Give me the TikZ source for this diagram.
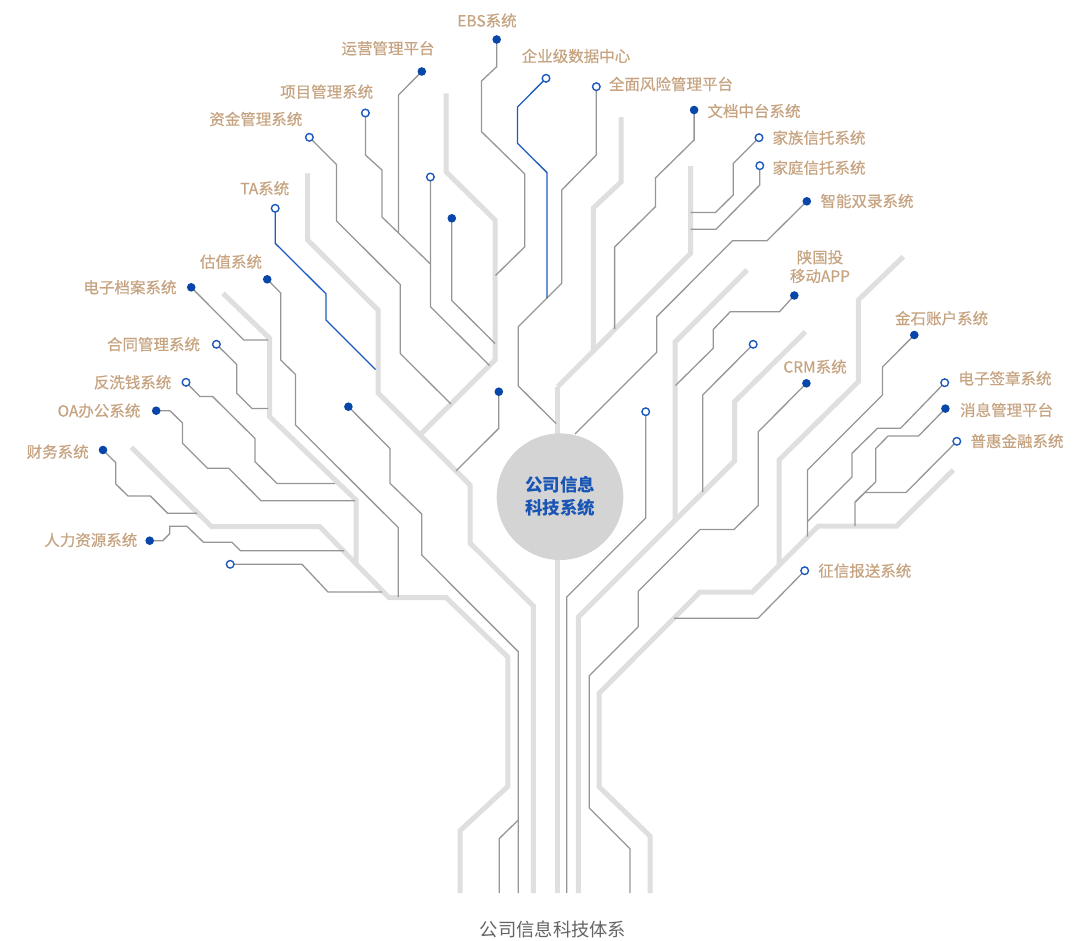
\documentclass[tikz,border=0pt]{standalone}
\usepackage{fontspec}
\setmainfont{Noto Sans CJK SC}
\newfontfamily\lblfont{Noto Sans CJK SC}[FakeBold=0.6]
\definecolor{trunkc}{RGB}{223,223,223}
\definecolor{wirec}{RGB}{150,150,150}
\definecolor{bluew}{RGB}{30,90,190}
\definecolor{dotc}{RGB}{8,70,170}
\definecolor{lblc}{RGB}{198,164,130}
\definecolor{hubc}{RGB}{212,212,212}
\definecolor{hubt}{RGB}{25,85,180}
\definecolor{capc}{RGB}{100,100,100}
\tikzset{
  trunk/.style={draw=trunkc,line width=5pt,line join=miter},
  wire/.style={draw=wirec,line width=1.3pt},
  bwire/.style={draw=bluew,line width=1.3pt},
  fdot/.style={circle,fill=dotc,inner sep=0pt,minimum size=8.6pt},
  odot/.style={circle,fill=white,draw=bluew,line width=1.4pt,inner sep=0pt,minimum size=7.6pt},
  lbl/.style={text=lblc,inner sep=0pt,font=\lblfont\fontsize{15.5}{18}\selectfont},
}
\begin{document}
\begin{tikzpicture}[x=1pt,y=-1pt]
\useasboundingbox (0,0) rectangle (1084,940);
% ---------- dots (coordinates) ----------
\coordinate (ebs) at (496.7,39.5);
\coordinate (yy) at (421.8,71.5);
\coordinate (qy) at (546,78.3);
\coordinate (qm) at (596.3,86.7);
\coordinate (xm) at (365.4,113);
\coordinate (wd) at (694.1,110);
\coordinate (zj) at (309.4,137.3);
\coordinate (jz) at (759,137.7);
\coordinate (jt) at (759.8,165.7);
\coordinate (o430) at (430.4,177);
\coordinate (ta) at (275.2,208.3);
\coordinate (zn) at (806.8,201.3);
\coordinate (f451) at (451.8,218.3);
\coordinate (gz) at (267.2,279.3);
\coordinate (sgt) at (794.3,295.5);
\coordinate (dzda) at (191.2,287.3);
\coordinate (js) at (914.3,335);
\coordinate (ht) at (216.4,344.3);
\coordinate (o753) at (753.2,344.3);
\coordinate (crm) at (806.4,383.3);
\coordinate (fxq) at (186,382.3);
\coordinate (dzqz) at (944.7,382.7);
\coordinate (f498) at (498.8,391.7);
\coordinate (f348) at (348.4,406.7);
\coordinate (oa) at (156.2,410.7);
\coordinate (xx) at (945.4,408.6);
\coordinate (o646) at (645.7,411.7);
\coordinate (ph) at (956.8,441.3);
\coordinate (cw) at (103,450);
\coordinate (rl) at (149.7,540.7);
\coordinate (o231) at (230.2,564.3);
\coordinate (zx) at (804.7,570.7);
% ---------- trunks ----------
\draw[trunk] (446,93.3) -- (446,171.7) -- (495,220) -- (495,360) -- (420,435);
\draw[trunk] (307.7,173.3) -- (307.7,240) -- (378,310) -- (378,393) -- (470,485) -- (470,543) -- (533.3,606) -- (533.3,893);
\draw[trunk] (223,293.3) -- (269.6,338.3) -- (269.6,416.7) -- (356,500) -- (356,564);
\draw[trunk] (131.4,447.3) -- (211.6,526.7) -- (319.8,526.7) -- (388.9,597.5) -- (446,597.5) -- (507.8,657) -- (507.8,786.5) -- (460,830.7) -- (460,893);
\draw[trunk] (557.7,386.7) -- (557.7,893);
\draw[trunk] (690.6,166) -- (690.6,253.3) -- (557.7,386.7);
\draw[trunk] (621,117) -- (621,182) -- (593.3,208) -- (593.3,350);
\draw[trunk] (747,270) -- (675,342) -- (675,520);
\draw[trunk] (805.4,331.7) -- (734.5,401.7) -- (734.5,461) -- (578.3,617) -- (578.3,893);
\draw[trunk] (903.3,256.7) -- (858.3,300) -- (858.3,381.7) -- (779,460) -- (779,565);
\draw[trunk] (953.3,470) -- (896.7,526) -- (818.3,526) -- (752.5,592) -- (700,592) -- (599,693.3) -- (599,786.7) -- (650,836) -- (650,893);
% ---------- wires ----------
\draw[wire] (ebs) -- (496.7,66.7) -- (481.5,81) -- (481.5,131.7) -- (524.8,174) -- (524.8,246.7) -- (495.5,275.5);
\draw[wire] (yy) -- (398.5,95) -- (398.5,233);
\draw[wire] (xm) -- (365.4,155) -- (382,170) -- (382,217) -- (430.4,264);
\draw[wire] (o430) -- (430.4,306.7) -- (489.5,365.5);
\draw[wire] (f451) -- (451.8,300.5) -- (495,343.5);
\draw[wire] (zj) -- (336.5,164.5) -- (336.5,221) -- (400.2,284.5) -- (400.2,353.5) -- (451,404);
\draw[bwire] (ta) -- (275.2,243.3) -- (326,293.8) -- (326,320) -- (375.5,369.5);
\draw[wire] (gz) -- (280.7,293) -- (280.7,360) -- (295.5,374.5) -- (295.5,425) -- (398.2,527.5) -- (398.2,597);
\draw[wire] (dzda) -- (243.7,340) -- (268,340);
\draw[wire] (ht) -- (236.8,364.5) -- (236.8,393.3) -- (252,408.5) -- (268,408.5);
\draw[wire] (fxq) -- (200,396.5) -- (212.6,396.5) -- (255,438.5) -- (255,461.7) -- (277,483.5) -- (335,483.5);
\draw[wire] (oa) -- (170,410.7) -- (182.5,423) -- (182.5,443.3) -- (207.5,468.3) -- (228.8,468.3) -- (261,500.7) -- (355,500.7);
\draw[wire] (cw) -- (115.8,462.7) -- (115.8,484) -- (128,496) -- (150.4,496) -- (167.7,513.3) -- (197,513.3);
\draw[wire] (rl) -- (162.7,540.7) -- (169.7,533.7) -- (169.7,526.3) -- (187,526.3) -- (203.5,542.3) -- (232,542.3) -- (240.5,550.7) -- (344,550.7);
\draw[wire] (o231) -- (302,564.3) -- (328,592) -- (382,592);
\draw[wire] (f348) -- (390,448.5) -- (390,483.3) -- (421.7,514) -- (421.7,555) -- (518.3,651.7) -- (518.3,893);
\draw[wire] (518.3,820) -- (499.3,838.5) -- (499.3,893);
\draw[wire] (f498) -- (498.8,428.3) -- (456,471);
\draw[wire] (qm) -- (596.3,155) -- (561.7,190) -- (561.7,283.3) -- (518.3,326.7) -- (518.3,386) -- (556,423.5);
\draw[bwire] (qy) -- (517.5,107) -- (517.5,143.3) -- (546.9,172.5) -- (546.9,298);
\draw[wire] (wd) -- (694.1,140) -- (655.4,178) -- (655.4,206.7) -- (614.6,247) -- (614.6,329);
\draw[wire] (jz) -- (733.2,163.5) -- (733.2,195) -- (715.5,212.5) -- (690.6,212.5);
\draw[wire] (jt) -- (759.8,185) -- (716,229.3) -- (690.6,229.3);
\draw[wire] (zn) -- (767,240.7) -- (732.5,240.7) -- (656.7,316.7) -- (656.7,352.3) -- (575,434);
\draw[wire] (sgt) -- (779.5,311.7) -- (730.3,311.7) -- (713.2,329.5) -- (713.2,348.3) -- (675.5,385.5);
\draw[wire] (o753) -- (702.7,395) -- (702.7,492);
\draw[wire] (o646) -- (645.7,518) -- (566.7,597) -- (566.7,893);
\draw[wire] (crm) -- (758.3,431.7) -- (758.3,505.5) -- (734,529.5) -- (700,529.5) -- (638.3,591.2) -- (638.3,626.7) -- (589.3,675.7) -- (589.3,808) -- (630,848.7) -- (630,893);
\draw[wire] (js) -- (882.5,367) -- (882.5,395) -- (807.5,470) -- (807.5,536.5);
\draw[wire] (dzqz) -- (900.5,428.3) -- (877.5,428.3) -- (852,453.3) -- (852,477) -- (807.5,521.5);
\draw[wire] (xx) -- (918.5,436) -- (888,436) -- (875.8,448.5) -- (875.8,481.7) -- (855,502) -- (855,526);
\draw[wire] (ph) -- (906,492.5) -- (865,492.5) -- (855.5,502);
\draw[wire] (zx) -- (758,618.3) -- (674,618.3);
% ---------- hub ----------
\node[circle,fill=hubc,minimum size=126.6pt,inner sep=0pt] (hub) at (560,496.7) {};
\node[text=hubt,font=\fontsize{17.5}{23}\selectfont\bfseries,inner sep=0pt] (hubtxt1) at (560,485) {公司信息};
\node[text=hubt,font=\fontsize{17.5}{23}\selectfont\bfseries,inner sep=0pt] (hubtxt2) at (560,508.3) {科技系统};
% ---------- dot nodes ----------
\foreach \n in {ebs,yy,f451,wd,zn,gz,sgt,dzda,js,crm,f498,f348,oa,xx,cw,rl}{\node[fdot] at (\n) {};}
\foreach \n in {qy,qm,xm,zj,jz,jt,o430,ta,ht,o753,fxq,dzqz,o646,ph,o231,zx}{\node[odot] at (\n) {};}
% ---------- labels ----------
\node[lbl] (l-ebs) at (487,20.5) {EBS系统};
\node[lbl] (l-yy) at (388,48.3) {运营管理平台};
\node[lbl] (l-qy) at (576,56) {企业级数据中心};
\node[lbl] (l-qm) at (671,84) {全面风险管理平台};
\node[lbl] (l-xm) at (326.7,91.7) {项目管理系统};
\node[lbl] (l-wd) at (754,111) {文档中台系统};
\node[lbl] (l-zj) at (255.8,119) {资金管理系统};
\node[lbl] (l-jz) at (819,137.7) {家族信托系统};
\node[lbl] (l-jt) at (819,167.7) {家庭信托系统};
\node[lbl] (l-ta) at (264.7,188.3) {TA系统};
\node[lbl] (l-zn) at (867,201) {智能双录系统};
\node[lbl] (l-gz) at (231,261.7) {估值系统};
\node[lbl] (l-sgt1) at (820,257.3) {陕国投};
\node[lbl] (l-sgt2) at (820,276) {移动APP};
\node[lbl] (l-dzda) at (130,287.3) {电子档案系统};
\node[lbl] (l-js) at (941.6,318.3) {金石账户系统};
\node[lbl] (l-ht) at (153.5,344.3) {合同管理系统};
\node[lbl] (l-crm) at (815,366.7) {CRM系统};
\node[lbl] (l-fxq) at (132.6,382.3) {反洗钱系统};
\node[lbl] (l-dzqz) at (1005,378.3) {电子签章系统};
\node[lbl] (l-oa) at (99,410.7) {OA办公系统};
\node[lbl] (l-xx) at (1006.6,410) {消息管理平台};
\node[lbl] (l-ph) at (1017,441) {普惠金融系统};
\node[lbl] (l-cw) at (57.7,451.7) {财务系统};
\node[lbl] (l-rl) at (90.8,540) {人力资源系统};
\node[lbl] (l-zx) at (864.8,570.7) {征信报送系统};
% ---------- caption ----------
\node[text=capc,inner sep=0pt,font=\fontsize{18.3}{21}\selectfont] (cap) at (553,929.5) {公司信息科技体系};
\end{tikzpicture}
\end{document}
